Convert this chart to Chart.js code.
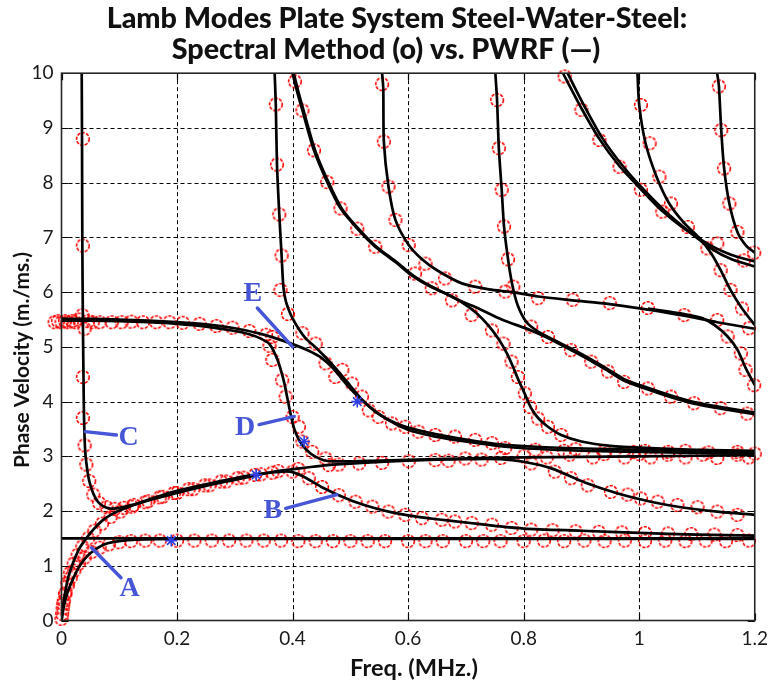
<!DOCTYPE html>
<html>
<head>
<meta charset="utf-8">
<script src="https://cdn.jsdelivr.net/npm/chart.js@4.4.0/dist/chart.umd.min.js"></script>
<style>
  html, body { margin: 0; padding: 0; background: #fff; }
  canvas { display: block; }
</style>
</head>
<body>
<canvas id="chart" width="775" height="690"></canvas>
<script>
// Axis ticks
const xTickValues = [0, 0.2, 0.4, 0.6, 0.8, 1, 1.2];
const xTickLabels = ['0', '0.2', '0.4', '0.6', '0.8', '1', '1.2'];
const yTickValues = [0, 1, 2, 3, 4, 5, 6, 7, 8, 9, 10];
const yTickLabels = ['0', '1', '2', '3', '4', '5', '6', '7', '8', '9', '10'];

// PWRF dispersion curves: [frequency (MHz), phase velocity (m/ms)]
const pwrfWater = [[0,1.5],[1.2,1.5]];
const pwrfA = [[0,0],[0.004,0.25],[0.01,0.5],[0.02,0.76],[0.03,0.97],[0.04,1.12],[0.05,1.23],[0.065,1.34],[0.08,1.41],[0.1,1.45],[0.13,1.475],[0.2,1.49],[0.5,1.49],[1.2,1.49]];
const pwrfB = [[0,0],[0.003,0.3],[0.007,0.55],[0.012,0.8],[0.02,1.05],[0.03,1.3],[0.04,1.46],[0.055,1.66],[0.07,1.82],[0.085,1.93],[0.1,2.01],[0.13,2.13],[0.16,2.24],[0.2,2.37],[0.25,2.49],[0.3,2.6],[0.337,2.67],[0.37,2.71],[0.395,2.72],[0.417,2.64],[0.45,2.44],[0.48,2.29],[0.51,2.16],[0.54,2.06],[0.57,1.98],[0.6,1.92],[0.65,1.85],[0.7,1.79],[0.75,1.73],[0.8,1.68],[0.9,1.64],[1.0,1.6],[1.1,1.57],[1.2,1.55]];
const pwrfC = [[0.035,10],[0.0355,8.8],[0.036,7],[0.037,5.5],[0.038,4.5],[0.039,3.7],[0.041,3.1],[0.044,2.8],[0.048,2.55],[0.055,2.32],[0.063,2.17],[0.072,2.09],[0.082,2.05],[0.095,2.05],[0.11,2.08],[0.13,2.13],[0.16,2.22],[0.2,2.33],[0.25,2.46],[0.3,2.57],[0.34,2.66],[0.38,2.74],[0.42,2.79],[0.46,2.84],[0.52,2.88],[0.6,2.92],[0.7,2.95],[0.76,2.95],[0.8,2.9],[0.848,2.78],[0.906,2.52],[0.963,2.32],[1.02,2.17],[1.078,2.06],[1.135,1.99],[1.2,1.93]];
const pwrfD = [[0,5.48],[0.05,5.48],[0.1,5.47],[0.15,5.45],[0.2,5.42],[0.25,5.37],[0.3,5.29],[0.325,5.23],[0.345,5.15],[0.36,5.05],[0.374,4.76],[0.385,4.37],[0.391,4.06],[0.397,3.75],[0.403,3.5],[0.411,3.3],[0.423,3.13],[0.44,2.99],[0.463,2.91],[0.55,2.92],[0.65,2.95],[0.8,2.98],[1.0,3.0],[1.2,3.02]];
const pwrfE = [[0,5.51],[0.05,5.51],[0.1,5.5],[0.15,5.48],[0.2,5.45],[0.25,5.41],[0.3,5.34],[0.34,5.25],[0.37,5.16],[0.4,5.05],[0.428,4.93],[0.45,4.8],[0.469,4.62],[0.497,4.27],[0.526,3.97],[0.566,3.66],[0.601,3.48],[0.647,3.36],[0.699,3.27],[0.773,3.17],[0.85,3.12],[0.95,3.09],[1.05,3.07],[1.2,3.05]];
const pwrfG = [[0.369,10],[0.371,9.4],[0.373,8.33],[0.377,7.42],[0.381,6.67],[0.384,6.1],[0.388,5.85],[0.394,5.66],[0.4,5.52],[0.411,5.32],[0.423,5.15],[0.44,4.99],[0.457,4.81],[0.475,4.6],[0.492,4.39],[0.52,4.04],[0.545,3.8],[0.58,3.6],[0.62,3.47],[0.68,3.34],[0.75,3.23],[0.83,3.17],[0.95,3.13],[1.08,3.1],[1.2,3.08]];
const pwrfF1 = [[0.4,10],[0.407,9.7],[0.417,9.32],[0.437,8.59],[0.46,8.01],[0.483,7.53],[0.512,7.16],[0.543,6.83],[0.578,6.55],[0.607,6.3],[0.635,6.12],[0.664,5.98],[0.695,5.82],[0.722,5.7],[0.762,5.5],[0.813,5.3],[0.842,5.16],[0.882,4.94],[0.917,4.74],[0.946,4.56],[0.974,4.38],[1.015,4.22],[1.055,4.08],[1.095,3.96],[1.141,3.87],[1.2,3.77]];
const pwrfF2 = [[0.402,10],[0.409,9.7],[0.419,9.32],[0.439,8.59],[0.462,8.01],[0.485,7.53],[0.514,7.16],[0.545,6.83],[0.58,6.55],[0.609,6.3],[0.637,6.12],[0.666,5.97],[0.695,5.8],[0.718,5.62],[0.74,5.38],[0.758,5.12],[0.771,4.88],[0.781,4.65],[0.79,4.42],[0.802,4.14],[0.812,3.9],[0.825,3.7],[0.842,3.54],[0.865,3.39],[0.9,3.27],[0.95,3.19],[1.02,3.15],[1.1,3.12],[1.2,3.1]];
const pwrfH1 = [[0.555,10],[0.557,9.72],[0.558,8.75],[0.566,7.93],[0.578,7.32],[0.601,6.86],[0.624,6.6],[0.65,6.4],[0.693,6.16],[0.74,6.05],[0.78,6.0],[0.825,5.92],[0.885,5.85],[0.949,5.78],[1.015,5.68],[1.078,5.57],[1.135,5.45],[1.2,5.33]];
const pwrfH2 = [[1.015,5.7],[1.078,5.6],[1.11,5.52],[1.13,5.4],[1.153,5.19],[1.17,4.95],[1.184,4.62],[1.2,4.3]];
const pwrfI = [[0.751,10],[0.754,9.5],[0.757,8.63],[0.762,7.87],[0.766,7.2],[0.773,6.6],[0.78,6.15],[0.79,5.75],[0.805,5.45],[0.825,5.28],[0.85,5.14],[0.882,4.97],[0.917,4.77],[0.946,4.59],[0.974,4.41],[1.015,4.25],[1.055,4.11],[1.095,3.99],[1.141,3.9],[1.2,3.8]];
const pwrfJ1 = [[0.868,10],[0.9,9.36],[0.931,8.8],[0.966,8.3],[1.003,7.88],[1.038,7.5],[1.078,7.16],[1.124,6.85],[1.16,6.68],[1.2,6.56]];
const pwrfJ2 = [[0.876,10],[0.906,9.38],[0.937,8.8],[0.972,8.3],[1.008,7.87],[1.045,7.48],[1.085,7.12],[1.124,6.8],[1.16,6.6],[1.2,6.47]];
const pwrfK = [[0.997,10],[1.0,9.42],[1.011,8.72],[1.03,8.11],[1.052,7.62],[1.078,7.26],[1.105,6.98],[1.125,6.7],[1.141,6.4],[1.158,6.04],[1.178,5.7],[1.2,5.4]];
const pwrfL = [[1.135,10],[1.138,9.76],[1.142,8.96],[1.147,8.26],[1.156,7.62],[1.17,7.1],[1.185,6.85],[1.2,6.72]];

// Spectral method roots: [frequency (MHz), phase velocity (m/ms)]
const specA = [[0,0.03],[0.001,0.12],[0.002,0.22],[0.004,0.36],[0.007,0.5],[0.011,0.64],[0.016,0.78],[0.022,0.91],[0.03,1.04],[0.04,1.15],[0.052,1.25],[0.066,1.33],[0.082,1.39],[0.1,1.43],[0.12,1.45],[0.145,1.46],[0.17,1.46],[0.2,1.46],[0.23,1.46],[0.26,1.46],[0.29,1.46],[0.32,1.46],[0.35,1.46],[0.38,1.46],[0.41,1.45],[0.44,1.45],[0.47,1.45],[0.5,1.45],[0.53,1.45],[0.56,1.45],[0.6,1.45],[0.63,1.45],[0.66,1.45],[0.7,1.45],[0.73,1.45],[0.76,1.45],[0.8,1.45],[0.835,1.46],[0.87,1.45],[0.905,1.46],[0.94,1.45],[0.975,1.46],[1.01,1.45],[1.045,1.46],[1.08,1.45],[1.115,1.46],[1.15,1.45],[1.19,1.46]];
const specB = [[0.003,0.3],[0.006,0.48],[0.01,0.68],[0.015,0.87],[0.021,1.04],[0.028,1.2],[0.036,1.35],[0.046,1.5],[0.057,1.64],[0.07,1.77],[0.085,1.89],[0.102,1.99],[0.122,2.08],[0.145,2.16],[0.17,2.25],[0.195,2.33],[0.22,2.4],[0.248,2.47],[0.276,2.54],[0.305,2.6],[0.335,2.66],[0.365,2.7],[0.4,2.72],[0.428,2.6],[0.451,2.44],[0.48,2.29],[0.509,2.17],[0.538,2.08],[0.566,1.99],[0.595,1.93],[0.624,1.87],[0.658,1.84],[0.681,1.81],[0.71,1.78],[0.745,1.75],[0.779,1.69],[0.813,1.66],[0.85,1.65],[0.89,1.63],[0.93,1.62],[0.97,1.61],[1.01,1.6],[1.05,1.59],[1.09,1.58],[1.13,1.57],[1.17,1.56]];
const specC = [[0.037,8.8],[0.037,6.85],[0.037,4.45],[0.037,3.7],[0.04,3.2],[0.043,2.85],[0.048,2.55],[0.055,2.3],[0.065,2.15],[0.078,2.07],[0.092,2.04],[0.108,2.06],[0.125,2.11],[0.15,2.18],[0.175,2.26],[0.2,2.33],[0.228,2.4],[0.256,2.47],[0.285,2.54],[0.315,2.61],[0.345,2.67],[0.375,2.73],[0.41,2.77],[0.463,2.84],[0.48,2.85],[0.515,2.87],[0.555,2.88],[0.601,2.91],[0.647,2.93],[0.67,2.92],[0.699,2.96],[0.727,2.94],[0.761,2.97],[0.813,2.87],[0.854,2.72],[0.882,2.6],[0.911,2.47],[0.951,2.35],[0.98,2.3],[1.003,2.23],[1.032,2.17],[1.066,2.11],[1.101,2.07],[1.135,1.99],[1.17,1.93]];
const specS = [[0.054,5.45],[0.066,5.45],[0.087,5.45],[0.104,5.45],[0.121,5.46],[0.141,5.45],[0.164,5.45],[0.187,5.45],[0.21,5.44],[0.239,5.42],[0.268,5.38],[0.296,5.35],[0.325,5.29],[0.354,5.22],[0.046,5.47],[0.04,5.33],[0.036,5.58],[0.03,5.5],[0.024,5.45],[0.018,5.47],[0.012,5.45],[0.006,5.47],[0,5.45],[-0.006,5.47],[-0.012,5.45],[-0.018,5.46]];
const specD = [[0.36,5.02],[0.365,4.76],[0.382,4.39],[0.388,4.09],[0.4,3.72],[0.411,3.54],[0.417,3.27],[0.434,3.08],[0.457,2.96],[0.8,3.0],[0.84,2.98],[0.88,3.03],[0.92,2.98],[0.94,3.04],[0.975,2.98],[1.0,3.04],[1.02,2.98],[1.05,3.03],[1.08,2.98],[1.11,3.03],[1.135,2.97],[1.17,3.03],[1.19,2.98]];
const specE = [[0.365,5.18],[0.44,5.06],[0.457,4.7],[0.474,4.45],[0.486,4.58],[0.503,4.33],[0.52,4.09],[0.532,3.84],[0.549,3.72],[0.572,3.6],[0.595,3.54],[0.618,3.45],[0.647,3.39],[0.681,3.36],[0.716,3.3],[0.745,3.24],[0.768,3.15],[0.82,3.12],[0.87,3.1],[0.89,3.13],[0.94,3.1],[0.99,3.08],[1.01,3.1],[1.05,3.08],[1.08,3.1],[1.12,3.07],[1.17,3.08],[1.2,3.05]];
const specG = [[0.371,9.43],[0.373,8.33],[0.377,7.42],[0.381,6.67],[0.379,6.04],[0.392,5.6],[0.417,5.25]];
const specF = [[0.404,9.85],[0.417,9.32],[0.437,8.59],[0.46,8.01],[0.483,7.53],[0.512,7.16],[0.543,6.83],[0.612,6.34],[0.641,6.07],[0.676,5.85],[0.71,5.58],[0.745,5.3],[0.765,5.06],[0.779,4.73],[0.79,4.45],[0.802,4.15],[0.811,3.9],[0.825,3.69],[0.842,3.54],[0.865,3.39]];
const specH = [[0.555,9.8],[0.558,8.75],[0.566,7.93],[0.578,7.32],[0.601,6.86],[0.63,6.52],[0.664,6.25],[0.716,6.1],[0.768,6.01],[0.825,5.89],[0.885,5.86],[0.949,5.8],[1.015,5.71],[1.078,5.58],[1.135,5.49],[1.19,5.34],[1.153,5.19],[1.176,4.88],[1.184,4.58],[1.199,4.3]];
const specI = [[0.754,9.51],[0.757,8.63],[0.762,7.87],[0.766,7.2],[0.773,6.6],[0.782,6.1],[0.813,5.37],[0.842,5.18],[0.882,4.94],[0.917,4.73],[0.946,4.55],[0.974,4.36],[1.015,4.24],[1.055,4.09],[1.095,3.97],[1.141,3.88],[1.187,3.78]];
const specJ = [[0.871,9.94],[0.9,9.33],[0.931,8.78],[0.966,8.29],[1.003,7.87],[1.04,7.47],[1.084,7.19],[1.118,6.8],[1.135,6.89],[1.181,6.58]];
const specK = [[1.003,9.42],[1.018,8.72],[1.035,8.11],[1.055,7.62],[1.141,6.4],[1.158,6.04],[1.178,5.7]];
const specL = [[1.138,9.76],[1.142,8.96],[1.147,8.26],[1.156,7.62],[1.17,7.1],[1.199,6.72]];

// Highlighted roots (blue stars)
const markedRoots = [[0.19,1.46],[0.337,2.66],[0.42,3.27],[0.512,4.0]];

// Mode labels with their leader lines
const modeLetters = ['A', 'B', 'C', 'D', 'E'];
const letterAt = [[0.118,0.6],[0.366,2.02],[0.116,3.35],[0.318,3.54],[0.331,5.98]];
const leaderFrom = [[0.103,0.78],[0.388,2.05],[0.095,3.39],[0.342,3.58],[0.339,5.71]];
const leaderTo = [[0.052,1.33],[0.477,2.3],[0.041,3.45],[0.403,3.73],[0.4,5.0]];

const pwrfCurves = [pwrfWater, pwrfA, pwrfB, pwrfC, pwrfD, pwrfE, pwrfG, pwrfF1, pwrfF2, pwrfH1, pwrfH2, pwrfI, pwrfJ1, pwrfJ2, pwrfK, pwrfL];
const spectralSets = [specA, specB, specC, specS, specD, specE, specG, specF, specH, specI, specJ, specK, specL];

const toXY = arr => arr.map(([x, y]) => ({ x, y }));

// Dashed red ring used as the spectral-method marker
function ringSprite() {
  const c = document.createElement('canvas');
  c.width = 16; c.height = 16;
  const g = c.getContext('2d');
  g.strokeStyle = '#ff0000';
  g.lineWidth = 1.6;
  g.setLineDash([3.2, 1.4]);
  g.beginPath();
  g.arc(8, 8, 6.3, 0, Math.PI * 2);
  g.stroke();
  return c;
}
const ring = ringSprite();

const datasets = [];
datasets.push({
  data: toXY(markedRoots), showLine: false, order: -1, clip: false,
  pointStyle: 'star', pointRadius: 6, pointBorderColor: '#2f3fe0', pointBorderWidth: 1.6,
  pointBackgroundColor: 'rgba(0,0,0,0)'
});
pwrfCurves.forEach(c => datasets.push({
  data: toXY(c), showLine: true, order: 0, borderColor: '#000', borderWidth: 2.7,
  pointRadius: 0, tension: 0.25, fill: false
}));
spectralSets.forEach(s => datasets.push({
  data: toXY(s), showLine: false, order: 1, clip: false,
  pointStyle: ring, pointRadius: 7
}));

const BLUE = '#4656d6';

function fittedSize(ctx, text, weight, family, width) {
  ctx.font = `${weight} 100px ${family}`;
  return 100 * width / ctx.measureText(text).width;
}

const decorPlugin = {
  id: 'decor',
  beforeDatasetsDraw(chart) {
    const { ctx, chartArea: a, scales: { x, y } } = chart;
    ctx.save();
    ctx.strokeStyle = '#000';
    ctx.lineWidth = 1;
    ctx.setLineDash([4, 3]);
    ctx.beginPath();
    xTickValues.forEach(v => {
      if (v <= x.min || v >= x.max) return;
      const px = Math.round(x.getPixelForValue(v)) + 0.5;
      ctx.moveTo(px, a.top); ctx.lineTo(px, a.bottom);
    });
    yTickValues.forEach(v => {
      if (v <= y.min || v >= y.max) return;
      const py = Math.round(y.getPixelForValue(v)) + 0.5;
      ctx.moveTo(a.left, py); ctx.lineTo(a.right, py);
    });
    ctx.stroke();
    ctx.restore();
  },
  afterDatasetsDraw(chart) {
    const { ctx, chartArea: a, scales: { x, y } } = chart;
    ctx.save();
    // inward tick marks
    ctx.strokeStyle = '#000';
    ctx.lineWidth = 1.2;
    ctx.beginPath();
    xTickValues.forEach(v => {
      const px = Math.round(x.getPixelForValue(v)) + 0.5;
      ctx.moveTo(px, a.bottom); ctx.lineTo(px, a.bottom - 7);
      ctx.moveTo(px, a.top); ctx.lineTo(px, a.top + 7);
    });
    yTickValues.forEach(v => {
      const py = Math.round(y.getPixelForValue(v)) + 0.5;
      ctx.moveTo(a.left, py); ctx.lineTo(a.left + 7, py);
      ctx.moveTo(a.right, py); ctx.lineTo(a.right - 7, py);
    });
    ctx.stroke();
    // plot frame
    ctx.strokeStyle = '#262626';
    ctx.lineWidth = 1.6;
    ctx.strokeRect(a.left, a.top, a.right - a.left, a.bottom - a.top);

    // mode labels
    ctx.strokeStyle = BLUE;
    ctx.fillStyle = BLUE;
    ctx.lineWidth = 3.4;
    ctx.lineCap = 'round';
    modeLetters.forEach((t, i) => {
      ctx.beginPath();
      ctx.moveTo(x.getPixelForValue(leaderFrom[i][0]), y.getPixelForValue(leaderFrom[i][1]));
      ctx.lineTo(x.getPixelForValue(leaderTo[i][0]), y.getPixelForValue(leaderTo[i][1]));
      ctx.stroke();
    });
    ctx.font = 'bold 28px "Liberation Serif", "DejaVu Serif", serif';
    ctx.textAlign = 'center';
    ctx.textBaseline = 'middle';
    modeLetters.forEach((t, i) => {
      ctx.fillText(t, x.getPixelForValue(letterAt[i][0]), y.getPixelForValue(letterAt[i][1]) + 1);
    });
    ctx.restore();
  },
  afterDraw(chart) {
    const { ctx } = chart;
    ctx.save();
    ctx.fillStyle = '#111';
    ctx.textAlign = 'center';
    ctx.textBaseline = 'alphabetic';
    const titleLines = ['Lamb Modes Plate System Steel-Water-Steel:', 'Spectral Method (o) vs. PWRF (\u2014)'];
    const ts = fittedSize(ctx, titleLines[0], 900, 'Lato', 581);
    ctx.font = `900 ${ts}px Lato`;
    ctx.fillText(titleLines[0], 397, 28);
    ctx.fillText(titleLines[1], 386, 59);

    const xTitle = 'Freq. (MHz.)';
    const xs = fittedSize(ctx, xTitle, 'bold', 'Lato', 128);
    ctx.font = `bold ${xs}px Lato`;
    ctx.textBaseline = 'middle';
    ctx.fillText(xTitle, 414, 668);

    const yTitle = 'Phase Velocity (m./ms.)';
    const ys = fittedSize(ctx, yTitle, 'bold', 'Lato', 216);
    ctx.font = `bold ${ys}px Lato`;
    ctx.translate(22, 360);
    ctx.rotate(-Math.PI / 2);
    ctx.fillText(yTitle, 0, 0);
    ctx.restore();
  }
};

new Chart(document.getElementById('chart'), {
  type: 'scatter',
  data: { datasets },
  options: {
    responsive: false,
    animation: false,
    devicePixelRatio: 1,
    events: [],
    layout: { padding: { top: 73.2, right: 17.5, left: 0, bottom: 0 } },
    plugins: { legend: { display: false }, tooltip: { enabled: false }, title: { display: false } },
    scales: {
      x: {
        type: 'linear', min: 0, max: 1.2,
        afterFit: s => { s.height = 69.5; },
        afterBuildTicks: s => { s.ticks = xTickValues.map(v => ({ value: v })); },
        ticks: {
          autoSkip: false, maxRotation: 0, padding: 7, color: '#1a1a1a',
          font: { family: 'Lato', size: 19 },
          callback: (v, i) => xTickLabels[i]
        },
        grid: { display: false, drawTicks: false },
        border: { display: false }
      },
      y: {
        type: 'linear', min: 0, max: 10,
        afterFit: s => { s.width = 61.5; },
        afterBuildTicks: s => { s.ticks = yTickValues.map(v => ({ value: v })); },
        ticks: {
          autoSkip: false, padding: 8, color: '#1a1a1a',
          font: { family: 'Lato', size: 19 },
          callback: (v, i) => yTickLabels[i]
        },
        grid: { display: false, drawTicks: false },
        border: { display: false }
      }
    }
  },
  plugins: [decorPlugin]
});
</script>
</body>
</html>
